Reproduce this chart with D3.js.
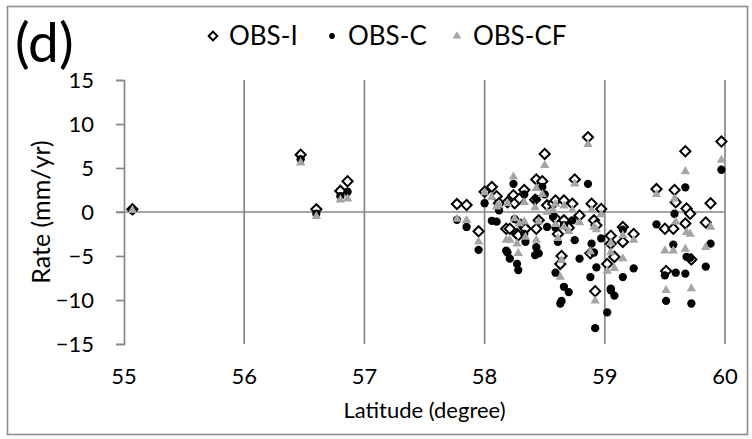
<!DOCTYPE html>
<html>
<head>
<meta charset="utf-8">
<script src="https://cdn.jsdelivr.net/npm/d3@7"></script>
<style>
  html, body { margin: 0; padding: 0; background: #ffffff; }
  svg { display: block; }
  text { font-family: Lato, "Open Sans", sans-serif; fill: #000; }
</style>
</head>
<body>
<svg id="chart" width="752" height="439"></svg>
<script>
// Station latitudes (degrees N) and the three uplift-rate estimates (mm/yr)
const latitude = [
  55.07, 56.47, 56.60, 56.80, 56.86,
  57.77, 57.85, 57.95,
  58.00, 58.06, 58.10, 58.12, 58.18, 58.19, 58.21, 58.24, 58.25, 58.27, 58.28, 58.29,
  58.33, 58.33, 58.34, 58.42, 58.43, 58.43, 58.45, 58.48, 58.50, 58.52, 58.57,
  58.59, 58.59, 58.61, 58.63, 58.64, 58.66, 58.66, 58.70, 58.73, 58.75, 58.79,
  58.86, 58.88, 58.89, 58.91, 58.92, 58.93, 58.97, 59.02, 59.05, 59.05, 59.08,
  59.15, 59.15, 59.24,
  59.43, 59.50, 59.51, 59.57, 59.58, 59.59, 59.67, 59.67, 59.68, 59.71, 59.72,
  59.84, 59.88, 59.97
];
const obsI = [
  0.3, 6.5, 0.3, 2.4, 3.5,
  0.9, 0.8, -2.2,
  2.3, 2.85, 1.8, 1.0, -1.9, 1.1, -1.9, 1.9, 1.0, -2.5, -2.65, 1.5,
  2.5, -1.7, -1.9, 1.4, 3.7, -1.9, -0.95, 3.5, 6.6, 0.76, 0.95,
  1.3, -0.75, -2.5, -5.9, -5.0, 1.3, -0.95, -1.8, 0.95, 3.7, -0.4,
  8.5, -4.7, 0.95, -0.95, -9.0, -1.5, 0.35, -5.9, -3.6, -2.7, -5.1,
  -1.7, -3.4, -2.5,
  2.6, -1.9, -6.7, -1.9, 2.5, 1.1, 6.9, -1.3, 0.4, -0.2, -5.4,
  -1.2, 1.0, 8.0
];
const obsC = [
  0.2, 6.0, -0.2, 1.8, 2.3,
  -0.9, -1.7, -4.3,
  1.0, -1.0, -1.1, 0.2, -4.4, -4.6, -5.3, 3.2, -0.8, -5.9, -6.6, -1.2,
  2.0, -2.5, -3.4, -4.9, 1.5, -4.0, -4.7, 2.85, 2.0, -1.7, -0.5,
  -1.8, -6.9, -3.4, -10.4, -10.1, -1.5, -8.5, -9.1, -0.95, -3.2, -5.3,
  3.2, -7.4, -3.6, -4.6, -13.2, -6.3, -3.0, -11.4, -8.7, -8.9, -9.5,
  -2.0, -7.4, -6.4,
  -1.4, -7.2, -10.1, -3.7, -0.2, -6.9, 2.8, -7.0, -5.1, -5.2, -10.4,
  -6.2, -3.6, 4.8
];
const obsCF = [
  0.2, 5.6, -0.5, 1.4, 1.5,
  -0.8, -0.95, -3.4,
  2.2, 1.7, 0.6, 0.8, -3.2, 1.0, -3.2, 4.0, -0.75, -3.6, -4.7, -1.3,
  1.1, -1.1, -2.85, 0.5, 2.7, -3.2, -1.1, 2.0, 5.3, 0.0, 0.2,
  0.9, -1.4, -3.0, -7.4, -5.5, 0.7, -1.7, -2.2, 0.2, 3.2, -1.2,
  7.7, -4.5, 0.2, -1.7, -10.1, -2.0, -0.3, -6.7, -4.6, -3.5, -6.4,
  -2.65, -5.3, -3.2,
  2.0, -4.4, -8.9, -4.4, 1.5, -1.1, 4.6, -4.2, -2.3, -2.5, -8.7,
  -4.0, -1.7, 5.9
];

const seriesNames = ["OBS-I", "OBS-C", "OBS-CF"];
const xTicks = [55, 56, 57, 58, 59, 60];
const yTicks = [-15, -10, -5, 0, 5, 10, 15];
const panelLabel = "(d)";
const xTitle = "Latitude (degree)";
const yTitle = "Rate (mm/yr)";

const svg = d3.select("#chart");
const plot = { left: 124, right: 725, top: 80, bottom: 344 };
const gridColor = "#878787";

const x = d3.scaleLinear().domain([55, 60]).range([plot.left, plot.right]);
const y = d3.scaleLinear().domain([-15, 15]).range([plot.bottom, plot.top]);

// outer chart border
svg.append("rect")
  .attr("x", 7.5).attr("y", 6.5)
  .attr("width", 740).attr("height", 428)
  .attr("fill", "#fff")
  .attr("stroke", "#8c8c8c").attr("stroke-width", 1.6);

// vertical gridlines (one per degree)
svg.append("g")
  .selectAll("line")
  .data(xTicks.slice(1))
  .join("line")
  .attr("x1", d => x(d)).attr("x2", d => x(d))
  .attr("y1", y(15)).attr("y2", y(-15))
  .attr("stroke", gridColor).attr("stroke-width", 1.7);

// y axis with outward ticks
const yAxis = svg.append("g")
  .attr("transform", `translate(${plot.left},0)`)
  .call(d3.axisLeft(y).tickValues(yTicks).tickSize(8).tickPadding(22).tickFormat(d3.format("d")));
yAxis.select(".domain").attr("stroke", gridColor).attr("stroke-width", 1.7);
yAxis.selectAll(".tick line").attr("stroke", gridColor).attr("stroke-width", 1.7);
yAxis.selectAll(".tick text")
  .attr("font-family", "Lato, sans-serif").attr("font-size", 22).attr("fill", "#000");

// horizontal zero line acting as the x axis
svg.append("line")
  .attr("x1", plot.left - 8).attr("x2", plot.right)
  .attr("y1", y(0)).attr("y2", y(0))
  .attr("stroke", gridColor).attr("stroke-width", 1.7);

// x tick labels along the bottom of the plot
svg.append("g")
  .selectAll("text")
  .data(xTicks)
  .join("text")
  .attr("x", d => x(d)).attr("y", 384)
  .attr("text-anchor", "middle")
  .attr("font-size", 22)
  .text(d => d);

// axis titles
svg.append("text")
  .attr("x", (plot.left + plot.right) / 2).attr("y", 418)
  .attr("text-anchor", "middle").attr("font-size", 22)
  .text(xTitle);
svg.append("text")
  .attr("transform", `translate(50,${(plot.top + plot.bottom) / 2}) rotate(-90)`)
  .attr("text-anchor", "middle").attr("font-size", 25)
  .text(yTitle);

// panel label
svg.append("text")
  .attr("x", 15).attr("y", 62)
  .attr("font-size", 55)
  .text(panelLabel);

// marker shapes
const diamondPath = d3.symbol().type(d3.symbolSquare).size(52)();
const circlePath = d3.symbol().type(d3.symbolCircle).size(54)();
const trianglePath = d3.symbol().type(d3.symbolTriangle).size(38)();

const styles = [
  { path: diamondPath, rot: 45, fill: "#fff", stroke: "#000", sw: 2 },
  { path: circlePath, rot: 0, fill: "#000", stroke: "none", sw: 0 },
  { path: trianglePath, rot: 0, fill: "#a5a5a5", stroke: "none", sw: 0 }
];
const seriesValues = [obsI, obsC, obsCF];

seriesValues.forEach((vals, si) => {
  const st = styles[si];
  svg.append("g")
    .selectAll("path")
    .data(latitude.map((lat, i) => [lat, vals[i]]))
    .join("path")
    .attr("d", st.path)
    .attr("transform", d => `translate(${x(d[0])},${y(d[1])}) rotate(${st.rot})`)
    .attr("fill", st.fill)
    .attr("stroke", st.stroke)
    .attr("stroke-width", st.sw);
});

// legend
const legendItems = [
  { mx: 213, tx: 229, style: styles[0], scale: 0.85 },
  { mx: 332, tx: 348, style: styles[1], scale: 0.7 },
  { mx: 457, tx: 473, style: styles[2], scale: 0.9 }
];
const legend = svg.append("g");
legendItems.forEach((it, i) => {
  legend.append("path")
    .attr("d", it.style.path)
    .attr("transform", `translate(${it.mx},36) rotate(${it.style.rot}) scale(${it.scale})`)
    .attr("fill", it.style.fill)
    .attr("stroke", it.style.stroke)
    .attr("stroke-width", it.style.sw / it.scale);
  legend.append("text")
    .attr("x", it.tx).attr("y", 45)
    .attr("font-size", 26)
    .text(seriesNames[i]);
});
</script>
</body>
</html>
